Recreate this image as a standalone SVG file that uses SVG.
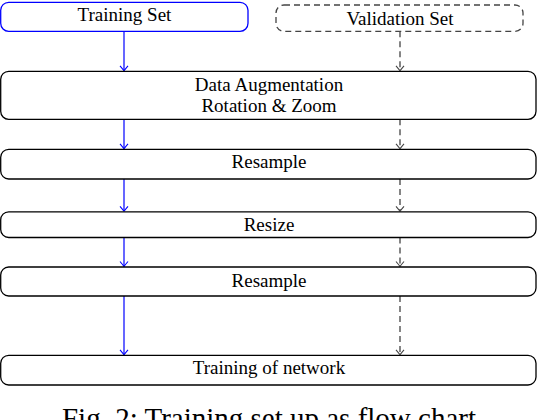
<svg xmlns="http://www.w3.org/2000/svg" width="538" height="420" viewBox="0 0 538 420">
<defs>
<style>
.box{fill:#fff;stroke:#000;stroke-width:1.3}
.blue{fill:#fff;stroke:#0000ff;stroke-width:1.3}
.dbox{fill:#fff;stroke:#444;stroke-width:1.3;stroke-dasharray:6,4}
text{font-family:"Liberation Serif","Times New Roman",serif;font-size:19px;fill:#000;text-anchor:middle}
.cap{font-size:29px}
.ct{stroke:#0000ff;stroke-width:1.2;fill:none}
.cv{stroke:#444;stroke-width:1.3;fill:none;stroke-dasharray:6,4}
</style>
<marker id="ab" markerWidth="10" markerHeight="10" viewBox="-6 -5 8 10" refX="0" refY="0" orient="auto" markerUnits="userSpaceOnUse">
<path d="M-5,-4 Q-1.5,-1 0,0 Q-1.5,1 -5,4" fill="none" stroke="#0000ff" stroke-width="1.1"/>
</marker>
<marker id="ag" markerWidth="10" markerHeight="10" viewBox="-6 -5 8 10" refX="0" refY="0" orient="auto" markerUnits="userSpaceOnUse">
<path d="M-5,-4 Q-1.5,-1 0,0 Q-1.5,1 -5,4" fill="none" stroke="#444" stroke-width="1.1"/>
</marker>
</defs>
<g id="connectors">
<line class="ct" x1="124" y1="31.3" x2="124" y2="70.8" marker-end="url(#ab)"/>
<line class="ct" x1="124" y1="119.3" x2="124" y2="148.8" marker-end="url(#ab)"/>
<line class="ct" x1="124" y1="179" x2="124" y2="211.3" marker-end="url(#ab)"/>
<line class="ct" x1="124" y1="237.5" x2="124" y2="266.5" marker-end="url(#ab)"/>
<line class="ct" x1="124" y1="296" x2="124" y2="354.8" marker-end="url(#ab)"/>
<line class="cv" x1="400" y1="31.3" x2="400" y2="70.8" marker-end="url(#ag)"/>
<line class="cv" x1="400" y1="119.3" x2="400" y2="148.8" marker-end="url(#ag)"/>
<line class="cv" x1="400" y1="179" x2="400" y2="211.3" marker-end="url(#ag)"/>
<line class="cv" x1="400" y1="237.5" x2="400" y2="266.5" marker-end="url(#ag)"/>
<line class="cv" x1="400" y1="296" x2="400" y2="354.8" marker-end="url(#ag)"/>
</g>
<g id="training-set">
<rect class="blue" x="0.7" y="2.3" width="247.3" height="29" rx="8"/>
<text x="124.5" y="20.8">Training Set</text>
</g>
<g id="validation-set">
<rect class="dbox" x="276" y="5" width="247" height="26.3" rx="8"/>
<text x="400" y="25">Validation Set</text>
</g>
<g id="data-augmentation">
<rect class="box" x="0.7" y="71.3" width="535.3" height="48" rx="8"/>
<text x="269" y="90.7">Data Augmentation</text>
<text x="269" y="112.3">Rotation &amp; Zoom</text>
</g>
<g id="resample-1">
<rect class="box" x="0.7" y="149.3" width="535.3" height="29.7" rx="8"/>
<text x="269" y="167.7">Resample</text>
</g>
<g id="resize">
<rect class="box" x="0.7" y="211.8" width="535.3" height="25.7" rx="8"/>
<text x="269" y="230.7">Resize</text>
</g>
<g id="resample-2">
<rect class="box" x="0.7" y="267" width="535.3" height="29" rx="8"/>
<text x="269" y="287">Resample</text>
</g>
<g id="training-network">
<rect class="box" x="0.7" y="355.3" width="535.3" height="29.7" rx="8"/>
<text x="269" y="373.5">Training of network</text>
</g>
<text class="cap" x="269" y="427.5">Fig. 2: Training set up as flow chart</text>
</svg>
